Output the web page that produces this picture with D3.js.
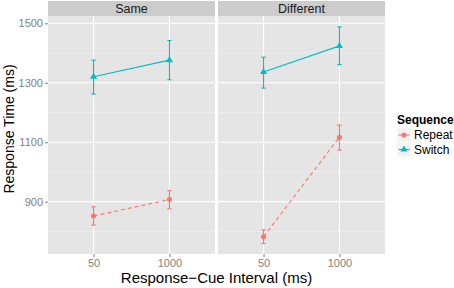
<!DOCTYPE html>
<html>
<head>
<meta charset="utf-8">
<script src="https://cdn.jsdelivr.net/npm/d3@7"></script>
<style>
  body { margin: 0; background: #fff; }
  text { font-family: "Liberation Sans", Arial, sans-serif; }
  .tick text { fill: #7f7f7f; font-size: 11px; }
  .tick line { stroke: #7f7f7f; }
</style>
</head>
<body>
<svg id="chart" width="454" height="288"></svg>
<script>
// data
const panels = ["Same", "Different"];
const intervals = ["50", "1000"];
const sequences = ["Repeat", "Switch"];
const yTicks = [900, 1100, 1300, 1500];
const yMinor = [800, 1000, 1200, 1400];

// mean, lower, upper  per panel / sequence / interval
const repeatSame = [[852, 821, 883], [907, 876, 937]];
const switchSame = [[1320, 1262, 1376], [1376, 1310, 1442]];
const repeatDiff = [[782, 759, 805], [1117, 1073, 1158]];
const switchDiff = [[1336, 1282, 1386], [1424, 1361, 1488]];

const rows = [];
[[repeatSame, switchSame], [repeatDiff, switchDiff]].forEach((p, pi) => {
    p.forEach((s, si) => {
        s.forEach((v, ii) => {
            rows.push({panel: panels[pi], seq: sequences[si], interval: intervals[ii], mean: v[0], lo: v[1], hi: v[2]});
        });
    });
});

const svg = d3.select("#chart");
const colors = d3.scaleOrdinal().domain(sequences).range(["#F8766D", "#00BFC4"]);

const plotTop = 16, plotBottom = 254, stripTop = 1;
const panelX = d3.scaleOrdinal().domain(panels).range([48, 218]);
const panelW = 167;

const y = d3.scaleLinear().domain([724, 1524.5]).range([plotBottom, plotTop]);
// discrete x with ggplot-style 0.6 expansion on each side
const x = d3.scalePoint().domain(intervals).range([0, panelW]).padding(0.6);

panels.forEach(pn => {
    const g = svg.append("g").attr("transform", `translate(${panelX(pn)},0)`);
    g.append("rect").attr("x", 0).attr("y", plotTop).attr("width", panelW).attr("height", plotBottom - plotTop).attr("fill", "#E5E5E5");
    g.append("rect").attr("x", 0).attr("y", stripTop).attr("width", panelW).attr("height", plotTop - stripTop).attr("fill", "#CCCCCC");
    g.append("text").attr("x", panelW / 2).attr("y", plotTop - 3.5).attr("text-anchor", "middle")
        .attr("font-size", 12.5).attr("fill", "#1a1a1a").text(pn);

    g.selectAll(".minor").data(yMinor).enter().append("line")
        .attr("x1", 0).attr("x2", panelW).attr("y1", d => y(d)).attr("y2", d => y(d))
        .attr("stroke", "#F2F2F2").attr("stroke-width", 0.6);
    g.selectAll(".major").data(yTicks).enter().append("line")
        .attr("x1", 0).attr("x2", panelW).attr("y1", d => y(d)).attr("y2", d => y(d))
        .attr("stroke", "#fff").attr("stroke-width", 1.1);
    g.selectAll(".vmajor").data(intervals).enter().append("line")
        .attr("x1", d => x(d)).attr("x2", d => x(d)).attr("y1", plotTop).attr("y2", plotBottom)
        .attr("stroke", "#fff").attr("stroke-width", 1.1);

    // x axis ticks + labels
    const xa = g.append("g").attr("transform", `translate(0,${plotBottom})`)
        .call(d3.axisBottom(x).tickSize(3).tickPadding(2));
    xa.select(".domain").remove();

    sequences.forEach(sq => {
        const d = rows.filter(r => r.panel === pn && r.seq === sq);
        const c = colors(sq);
        g.append("path").datum(d)
            .attr("d", d3.line().x(r => x(r.interval)).y(r => y(r.mean)))
            .attr("fill", "none").attr("stroke", c).attr("stroke-width", 1.1)
            .attr("stroke-dasharray", sq === "Repeat" ? "4,3" : null);
        d.forEach(r => {
            const cx = x(r.interval);
            g.append("line").attr("x1", cx).attr("x2", cx).attr("y1", y(r.lo)).attr("y2", y(r.hi))
                .attr("stroke", c).attr("stroke-width", 1.1);
            [r.lo, r.hi].forEach(v => g.append("line").attr("x1", cx - 2.2).attr("x2", cx + 2.2)
                .attr("y1", y(v)).attr("y2", y(v)).attr("stroke", c).attr("stroke-width", 1.1));
            g.append("path").attr("transform", `translate(${cx},${y(r.mean)})`)
                .attr("d", d3.symbol().type(sq === "Repeat" ? d3.symbolCircle : d3.symbolTriangle).size(sq === "Repeat" ? 20 : 22))
                .attr("fill", c);
        });
    });
});

// y axis
const ya = svg.append("g").attr("transform", "translate(48,0)")
    .call(d3.axisLeft(y).tickValues(yTicks).tickFormat(d3.format("d")).tickSize(3).tickPadding(2));
ya.select(".domain").remove();

svg.append("text").attr("transform", "translate(14,129) rotate(-90)")
    .attr("text-anchor", "middle").attr("font-size", 14).attr("fill", "#000").text("Response Time (ms)");
svg.append("text").attr("x", 216.5).attr("y", 283)
    .attr("text-anchor", "middle").attr("font-size", 15).attr("fill", "#000").text("Response\u2212Cue Interval (ms)");

// legend
const lg = svg.append("g").attr("transform", "translate(397,112)");
lg.append("text").attr("x", 0).attr("y", 12).attr("font-size", 12).attr("font-weight", "bold").text("Sequence");
sequences.forEach((sq, i) => {
    const ky = 16 + i * 14.5;
    const c = colors(sq);
    lg.append("rect").attr("x", 0).attr("y", ky).attr("width", 14).attr("height", 14)
        .attr("fill", "#F2F2F2").attr("stroke", "#fff").attr("stroke-width", 0.5);
    lg.append("line").attr("x1", 1.5).attr("x2", 12.5).attr("y1", ky + 7).attr("y2", ky + 7)
        .attr("stroke", c).attr("stroke-width", 1.1);
    lg.append("path").attr("transform", `translate(7,${ky + 7})`)
        .attr("d", d3.symbol().type(sq === "Repeat" ? d3.symbolCircle : d3.symbolTriangle).size(sq === "Repeat" ? 20 : 22))
        .attr("fill", c);
    lg.append("text").attr("x", 17).attr("y", ky + 11).attr("font-size", 12).attr("fill", "#000").text(sq);
});
</script>
</body>
</html>
